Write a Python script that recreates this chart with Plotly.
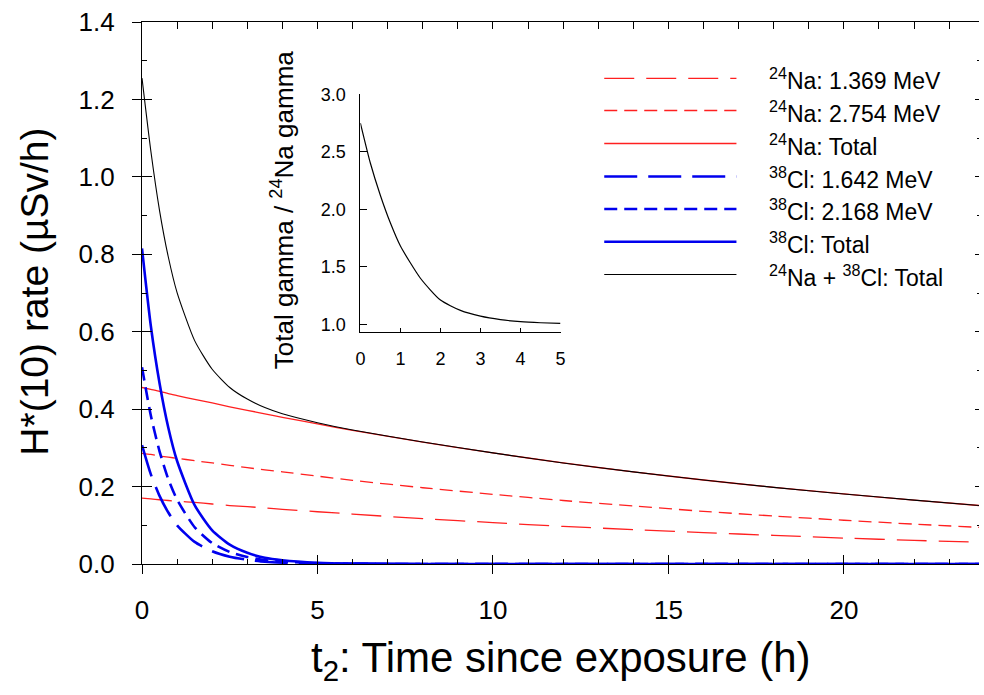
import plotly.graph_objects as go

# ---------------- data ----------------
t_h = [0, 0.25, 0.5, 0.75, 1, 1.5, 2, 2.5, 3, 3.5, 4, 5, 6, 8, 10, 12, 14, 16, 18, 20, 22, 24]

na_1369 = [0.170, 0.168, 0.166, 0.164, 0.162, 0.159, 0.155, 0.151, 0.148, 0.145, 0.141,
           0.135, 0.129, 0.117, 0.107, 0.097, 0.089, 0.081, 0.074, 0.067, 0.061, 0.056]
na_2754 = [0.286, 0.283, 0.279, 0.276, 0.273, 0.267, 0.261, 0.255, 0.249, 0.243, 0.238,
           0.227, 0.216, 0.197, 0.180, 0.164, 0.150, 0.136, 0.124, 0.113, 0.103, 0.094]
na_total = [0.456, 0.451, 0.446, 0.440, 0.435, 0.425, 0.416, 0.406, 0.397, 0.388, 0.379,
            0.362, 0.345, 0.315, 0.287, 0.261, 0.238, 0.217, 0.198, 0.181, 0.165, 0.150]
cl_1642 = [0.307, 0.232, 0.176, 0.133, 0.100, 0.057, 0.033, 0.019, 0.011, 0.006, 0.0035,
           0.0012, 0.0004, 0.0, 0.0, 0.0, 0.0, 0.0, 0.0, 0.0, 0.0, 0.0]
cl_2168 = [0.508, 0.384, 0.291, 0.219, 0.166, 0.095, 0.054, 0.031, 0.018, 0.010, 0.006,
           0.002, 0.0006, 0.0, 0.0, 0.0, 0.0, 0.0, 0.0, 0.0, 0.0, 0.0]
cl_total = [0.815, 0.616, 0.467, 0.352, 0.266, 0.152, 0.087, 0.050, 0.029, 0.016, 0.0095,
            0.0032, 0.0010, 0.0001, 0.0, 0.0, 0.0, 0.0, 0.0, 0.0, 0.0, 0.0]
all_total = [1.255, 1.068, 0.913, 0.793, 0.701, 0.577, 0.503, 0.456, 0.426, 0.404, 0.388,
             0.365, 0.346, 0.315, 0.287, 0.261, 0.238, 0.217, 0.198, 0.181, 0.165, 0.150]

inset_t = [0, 0.25, 0.5, 0.75, 1, 1.5, 2, 2.5, 3, 3.5, 4, 4.5, 5]
inset_ratio = [2.75, 2.40, 2.12, 1.88, 1.68, 1.40, 1.21, 1.12, 1.07, 1.04, 1.022, 1.013, 1.008]

legend_labels = [
    "<sup>24</sup>Na: 1.369 MeV",
    "<sup>24</sup>Na: 2.754 MeV",
    "<sup>24</sup>Na: Total",
    "<sup>38</sup>Cl: 1.642 MeV",
    "<sup>38</sup>Cl: 2.168 MeV",
    "<sup>38</sup>Cl: Total",
    "<sup>24</sup>Na + <sup>38</sup>Cl: Total",
]

# ---------------- styles ----------------
RED = "#ff2020"
BLUE = "#0000ee"
FONT = "Arial, Liberation Sans, sans-serif"
styles = [
    dict(color=RED, width=1.3, dash="30px,12px"),
    dict(color=RED, width=1.3, dash="13px,7px"),
    dict(color=RED, width=1.3, dash="solid"),
    dict(color=BLUE, width=2.6, dash="33px,11px"),
    dict(color=BLUE, width=2.6, dash="13px,7px"),
    dict(color=BLUE, width=2.6, dash="solid"),
    dict(color="black", width=1.1, dash="solid"),
]
series = [na_1369, na_2754, na_total, cl_1642, cl_2168, cl_total, all_total]

W, H = 984, 695
L, R, T, B = 142, 0, 22, 131
PW, PH = W - L - R, H - T - B


def xp(px):
    return (px - L) / PW


def yp(py):
    return (H - B - py) / PH


fig = go.Figure()
for ys, st, name in zip(series, styles, legend_labels):
    fig.add_trace(go.Scatter(x=t_h, y=ys, mode="lines",
                             line=dict(st, shape="spline", smoothing=0.6), name=name,
                             showlegend=False, xaxis="x", yaxis="y"))

# dummy traces so overlay axes are created
fig.add_trace(go.Scatter(x=[None], y=[None], xaxis="x2", yaxis="y2", showlegend=False))
fig.add_trace(go.Scatter(x=[None], y=[None], xaxis="x4", yaxis="y4", showlegend=False))

# inset
fig.add_trace(go.Scatter(x=inset_t, y=inset_ratio, mode="lines",
                         line=dict(color="black", width=1.2, shape="spline", smoothing=0.6),
                         xaxis="x3", yaxis="y3", showlegend=False))

XR = [0, 23.85]
YR = [0, 1.4]
tickfont = dict(family=FONT, size=26, color="black")

fig.update_layout(
    width=W, height=H,
    margin=dict(l=L, r=R, t=T, b=B),
    paper_bgcolor="white", plot_bgcolor="white",
    showlegend=False,
    xaxis=dict(range=XR, domain=[0, 1], anchor="y", dtick=5, tick0=0,
               ticks="outside", ticklen=9, tickwidth=1.2, tickcolor="black",
               showline=True, linecolor="black", linewidth=1.3,
               showgrid=False, zeroline=False, tickfont=tickfont,
               ticklabelstandoff=14, layer="below traces"),
    yaxis=dict(range=YR, domain=[0, 1], anchor="x", dtick=0.2, tick0=0,
               tickformat=".1f",
               ticks="outside", ticklen=9, tickwidth=1.2, tickcolor="black",
               showline=True, linecolor="black", linewidth=1.3,
               showgrid=False, zeroline=False, tickfont=tickfont,
               ticklabelstandoff=12, layer="below traces"),
    xaxis2=dict(range=XR, overlaying="x", anchor="y2", side="bottom",
                dtick=5, tick0=0, ticks="inside", ticklen=9, tickwidth=1.2,
                tickcolor="black", showticklabels=False, showline=False,
                showgrid=False, zeroline=False,
                minor=dict(ticks="inside", dtick=1, ticklen=5, tickwidth=1,
                           tickcolor="black")),
    yaxis2=dict(range=YR, overlaying="y", anchor="x2", side="left",
                dtick=0.2, tick0=0, ticks="inside", ticklen=10, tickwidth=1.2,
                tickcolor="black", showticklabels=False, showline=False,
                showgrid=False, zeroline=False,
                minor=dict(ticks="inside", dtick=0.1, ticklen=5, tickwidth=1,
                           tickcolor="black")),
    xaxis4=dict(range=XR, overlaying="x", anchor="y4", side="top",
                dtick=1, tick0=0, ticks="inside", ticklen=7, tickwidth=1,
                tickcolor="black", showticklabels=False, showline=True,
                linecolor="black", linewidth=1.3,
                showgrid=False, zeroline=False),
    yaxis4=dict(range=YR, overlaying="y", anchor="x4", side="right",
                dtick=0.2, tick0=0, ticks="inside", ticklen=4, tickwidth=1,
                tickcolor="black", showticklabels=False, showline=False,
                showgrid=False, zeroline=False,
                minor=dict(ticks="inside", dtick=0.1, ticklen=2, tickwidth=1,
                           tickcolor="black")),
    xaxis3=dict(domain=[xp(361.7), xp(563)], anchor="y3", range=[0, 5],
                dtick=1, tick0=0, ticks="inside", ticklen=4, tickwidth=1,
                tickcolor="black", showline=True, linecolor="black", linewidth=1.2,
                showgrid=False, zeroline=False,
                tickfont=dict(family=FONT, size=18, color="black"),
                ticklabelstandoff=11),
    yaxis3=dict(domain=[yp(331.7), yp(94.3)], anchor="x3", range=[0.935, 3.0],
                dtick=0.5, tick0=1.0, tickformat=".1f",
                ticks="inside", ticklen=7, tickwidth=1,
                tickcolor="black", showline=True, linecolor="black", linewidth=1.2,
                showgrid=False, zeroline=False,
                tickfont=dict(family=FONT, size=18, color="black"),
                ticklabelstandoff=10),
)

annotations = [
    dict(text="H*(10) rate (µSv/h)", x=xp(33), y=yp(292), xref="paper", yref="paper",
         textangle=-90, showarrow=False, xanchor="center", yanchor="middle",
         font=dict(family=FONT, size=39, color="black")),
    dict(text="t<sub>2</sub>: Time since exposure (h)", x=xp(563), y=yp(660),
         xref="paper", yref="paper", showarrow=False, xanchor="center", yanchor="middle",
         font=dict(family=FONT, size=42, color="black")),
    dict(text="Total gamma / <sup>24</sup>Na gamma", x=xp(284), y=yp(210),
         xref="paper", yref="paper", textangle=-90, showarrow=False,
         xanchor="center", yanchor="middle",
         font=dict(family=FONT, size=26, color="black")),
]

row_y = [78.3, 110.5, 143.5, 176.5, 209, 241.7, 274.5]
shapes = []
for lab, st, ry in zip(legend_labels, styles, row_y):
    shapes.append(dict(type="line", xref="paper", yref="paper",
                       x0=xp(607), x1=xp(740), y0=yp(ry), y1=yp(ry),
                       line=dict(color=st["color"], width=st["width"], dash=st["dash"])))
    annotations.append(dict(text=lab, x=xp(771), y=yp(ry + 1), xref="paper", yref="paper",
                            showarrow=False, xanchor="left", yanchor="middle",
                            font=dict(family=FONT, size=23, color="black")))

fig.update_layout(annotations=annotations, shapes=shapes)
fig.write_html(
    "out.html",
    config={"displayModeBar": False},
    post_script="document.body.style.margin='0px';document.body.style.overflow='hidden';",
)
